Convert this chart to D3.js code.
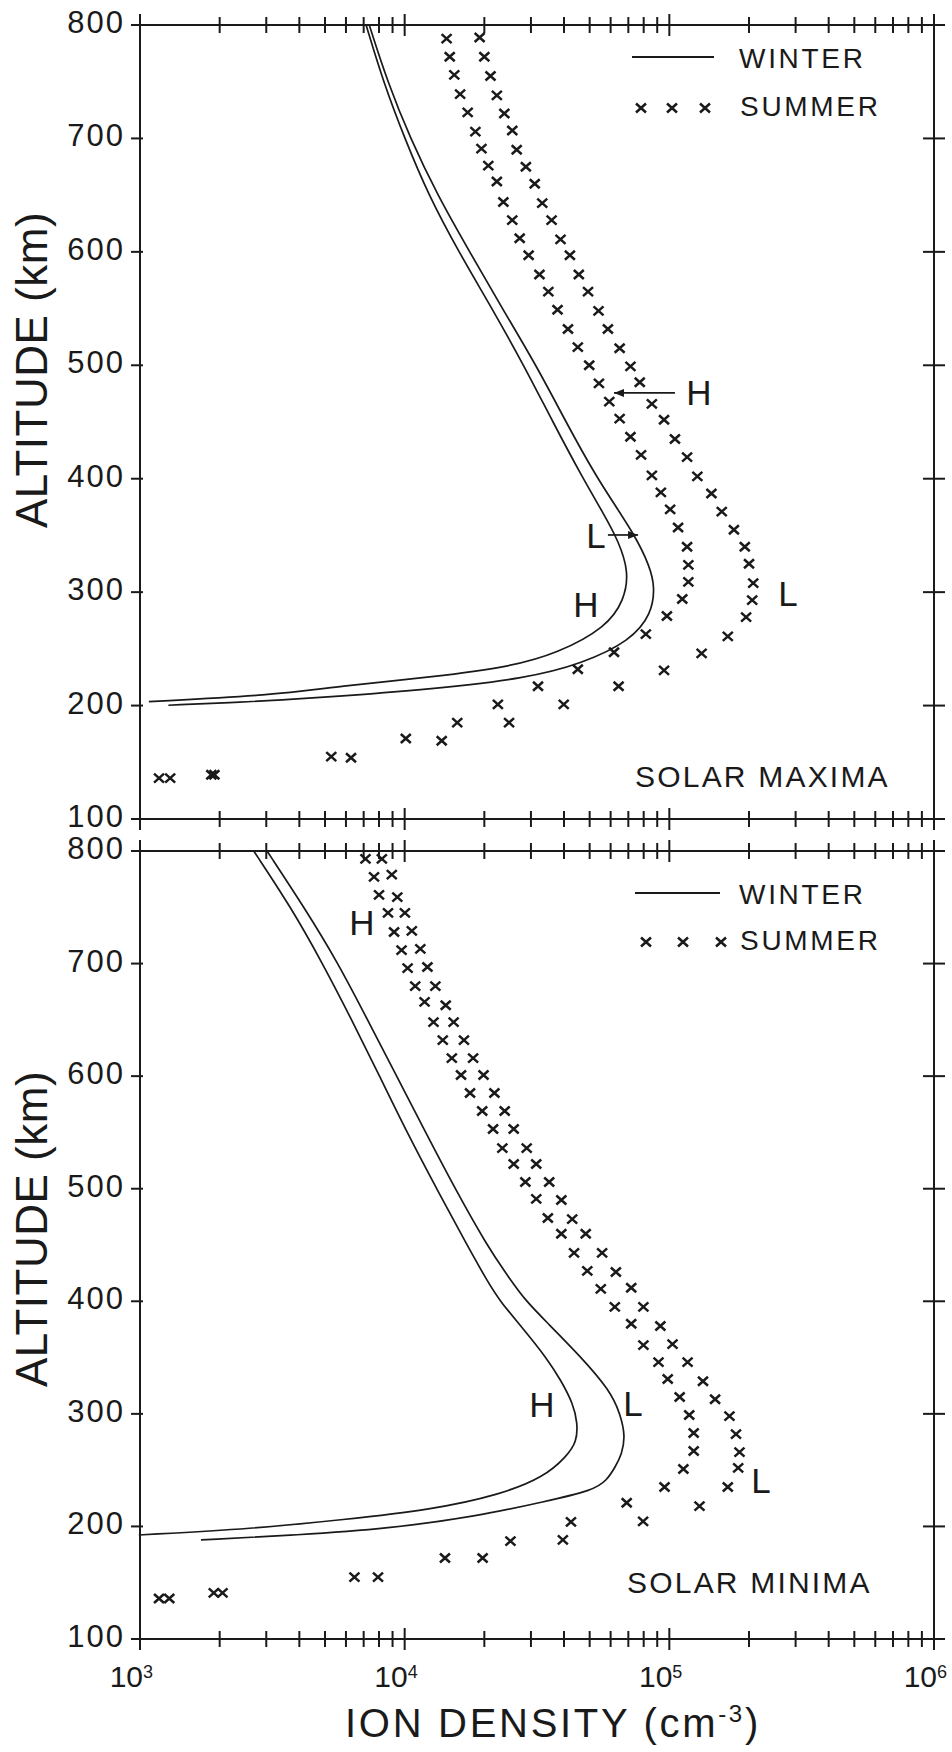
<!DOCTYPE html>
<html>
<head>
<meta charset="utf-8">
<script src="https://cdn.jsdelivr.net/npm/d3@7"></script>
<style>
  body { margin: 0; background: #fff; }
  svg { display: block; }
  text { font-family: "Liberation Sans", Arial, sans-serif; fill: #1a1a1a; }
</style>
</head>
<body>
<svg id="chart" width="952" height="1752"></svg>
<script>
// axis values
const altTicks = [100, 200, 300, 400, 500, 600, 700, 800];
const decades = [3, 4, 5, 6];

// solar maxima, winter model curves: [altitude km, density cm-3]
const maxWinterH = [[800,7150],[750,8300],[700,10000],[650,12300],[600,16000],[550,21400],[500,28200],[450,36300],[400,47200],[370,56200],[345,64300],[318,70300],[293,67600],[269,57800],[246,37800],[234,24800],[225.5,13100],[217,5640],[209,3150],[203.5,1080]];
const maxWinterL = [[800,7350],[750,8610],[700,10500],[650,13300],[600,17600],[550,23400],[500,31400],[450,40700],[400,53300],[350,74500],[322,84500],[305,88100],[281,85900],[257,71300],[237,46800],[224,29000],[213.6,11800],[206,4100],[203,2420],[200.3,1280]];

// solar maxima, summer model (crosses)
const maxSummerH = [[788,14400],[772,14800],[756,15400],[739,16200],[723,17300],[706,18500],[691,19500],[676,20700],[662,22300],[644,23600],[628,25500],[612,27200],[597,29400],[580,32300],[565,34900],[549,37800],[532,41400],[516,45100],[500,49800],[484,54200],[468,59300],[453,64900],[437,71300],[421,78200],[403,85900],[388,92900],[373,100700],[357,107900],[340,116700],[324,118000],[309,118000],[294,111900],[279,97900],[263,81500],[247,61800],[232,45100],[217,31900],[201,22500],[185,15800],[171,10100],[155,5280],[139,1860],[136,1180]];
const maxSummerL = [[789,19200],[772,20000],[755,21100],[738,22300],[722,23800],[707,25500],[690,26500],[675,28700],[660,31000],[643,33100],[628,35900],[611,38800],[597,42100],[580,45500],[565,49300],[548,54000],[532,58600],[515,64900],[499,71300],[485,77300],[466,85900],[452,95500],[435,105000],[419,116700],[402,127600],[387,144200],[371,157800],[355,175400],[340,192800],[325,200000],[308,207500],[293,205600],[278,195000],[261,166300],[246,132400],[231,95500],[217,64300],[201,39900],[185,24800],[169,13800],[154,6270],[139,1910],[136,1300]];

// solar minima, winter model curves
const minWinterH = [[800,2690],[750,3720],[700,4900],[650,6310],[600,8040],[550,10200],[500,13200],[450,17200],[419,20400],[400,22900],[375,28200],[350,34300],[330,38900],[309,43300],[292,45000],[275,44700],[262,40800],[244,33700],[228,22800],[215,12700],[206,5860],[198,2690],[192.4,990]];
const minWinterL = [[800,3020],[750,4170],[700,5620],[650,7240],[600,9330],[550,12000],[500,15500],[450,20400],[419,25100],[400,28800],[383,33900],[351,46200],[321,59600],[300,65300],[280,68200],[264,66100],[253,62500],[241,58100],[232,51500],[222,33700],[209,18800],[198,8650],[192.4,3970],[188,1700]];

// solar minima, summer model (crosses)
const minSummerH = [[793,7110],[777,7660],[761,8000],[745,8650],[728,9120],[712,9730],[696,10260],[680,10960],[666,11890],[648,12850],[632,13930],[616,15070],[601,16330],[585,17660],[569,19630],[553,21580],[536,23390],[522,25820],[506,28580],[491,31410],[474,34750],[460,39080],[443,43650],[427,48980],[411,55080],[395,62230],[380,71780],[361,79800],[346,91000],[331,98600],[315,109400],[299,118900],[283,123600],[267,123600],[251,113000],[235,95900],[221,69000],[204,42500],[187,25100],[172,14200],[155,6460],[141,1900],[136,1180]];
const minSummerL = [[793,8200],[779,8940],[759,9380],[745,10020],[729,10640],[713,11460],[697,12190],[680,13060],[663,14290],[648,15310],[632,16750],[616,18140],[601,19860],[585,21830],[569,23880],[553,25820],[536,28910],[522,31410],[506,35160],[490,39080],[473,42950],[460,48310],[443,55720],[426,62810],[412,71780],[395,79800],[378,92500],[362,102800],[346,117200],[329,134000],[313,148900],[298,168700],[282,178600],[266,184100],[252,182000],[235,166300],[218,130000],[204.5,79600],[188,39600],[172,19700],[155,7930],[141,2050],[136,1290]];

// H / L annotations: [density, altitude, text]
const maxNotes = [[129400,475.6,"H"],[52800,349.5,"L"],[48400,289.5,"H"],[280500,299.2,"L"]];
const maxArrows = [[105000,61800,475.6],[58600,76200,350.4]];
const minNotes = [[6900,736.9,"H"],[33000,307.9,"H"],[72900,309.6,"L"],[221800,240.4,"L"]];

const ink = "#1a1a1a";
const svg = d3.select("#chart");
const x = d3.scaleLog().domain([1e3, 1e6]).range([140, 934]);

svg.append("defs").append("marker")
    .attr("id", "head")
    .attr("viewBox", "0 0 10 8")
    .attr("refX", 10).attr("refY", 4)
    .attr("markerWidth", 10).attr("markerHeight", 8)
    .attr("markerUnits", "userSpaceOnUse")
    .attr("orient", "auto")
  .append("path")
    .attr("d", "M0,0L10,4L0,8z")
    .attr("fill", ink);

const panels = [
  { top: 25, bottom: 819, winter: [maxWinterH, maxWinterL], summer: [maxSummerH, maxSummerL],
    notes: maxNotes, arrows: maxArrows, title: "SOLAR MAXIMA", titleX: 635, titleY: 787,
    legLine: [632, 714, 57], legCross: [641, 672, 705], legCrossY: 108, legTextX: 739,
    yLabelY: 370 },
  { top: 851, bottom: 1639, winter: [minWinterH, minWinterL], summer: [minSummerH, minSummerL],
    notes: minNotes, arrows: [], title: "SOLAR MINIMA", titleX: 627, titleY: 1593,
    legLine: [635, 720, 893], legCross: [646, 683, 721], legCrossY: 942, legTextX: 739,
    yLabelY: 1229 }
];

// all log tick positions 1e3 .. 1e6
const logTicks = [];
decades.forEach(k => {
  if (k === 6) { logTicks.push({ v: 1e6, major: true }); return; }
  for (let m = 1; m <= 9; m++) logTicks.push({ v: m * Math.pow(10, k), major: m === 1 });
});

const crossPath = "M-5,-4.5L5,4.5M-5,4.5L5,-4.5";

panels.forEach(p => {
  const y = d3.scaleLinear().domain([100, 800]).range([p.bottom, p.top]);
  const g = svg.append("g");

  // frame
  g.append("rect")
    .attr("x", x(1e3)).attr("y", y(800))
    .attr("width", x(1e6) - x(1e3)).attr("height", y(100) - y(800))
    .attr("fill", "none").attr("stroke", ink).attr("stroke-width", 2);

  // x ticks on top and bottom edges
  [800, 100].forEach(a => {
    g.selectAll(null).data(logTicks).enter().append("line")
      .attr("x1", d => x(d.v)).attr("x2", d => x(d.v))
      .attr("y1", d => y(a) - (d.major ? 11 : 8))
      .attr("y2", d => y(a) + (d.major ? 11 : 8))
      .attr("stroke", ink).attr("stroke-width", 2);
  });

  // y ticks left and right
  g.selectAll(null).data(altTicks).enter().append("line")
    .attr("x1", x(1e3) - 9).attr("x2", x(1e3) + 3)
    .attr("y1", d => y(d)).attr("y2", d => y(d))
    .attr("stroke", ink).attr("stroke-width", 2);
  g.selectAll(null).data(altTicks).enter().append("line")
    .attr("x1", x(1e6) - 11).attr("x2", x(1e6) + 11)
    .attr("y1", d => y(d)).attr("y2", d => y(d))
    .attr("stroke", ink).attr("stroke-width", 2);

  g.selectAll(null).data(altTicks).enter().append("text")
    .attr("x", 125).attr("y", d => y(d) + 8)
    .attr("text-anchor", "end")
    .style("font-size", "31px").style("letter-spacing", "2px")
    .text(d => d);

  // y axis title
  g.append("text")
    .attr("transform", `translate(47,${p.yLabelY}) rotate(-90)`)
    .attr("text-anchor", "middle")
    .style("font-size", "44px").style("letter-spacing", "0.5px")
    .text("ALTITUDE (km)");

  // winter curves
  const line = d3.line()
    .x(d => x(d[1])).y(d => y(d[0]))
    .curve(d3.curveBasis);
  g.selectAll(null).data(p.winter).enter().append("path")
    .attr("d", line)
    .attr("fill", "none").attr("stroke", ink).attr("stroke-width", 1.7);

  // summer crosses
  p.summer.forEach(series => {
    g.selectAll(null).data(series).enter().append("path")
      .attr("transform", d => `translate(${x(d[1])},${y(d[0])})`)
      .attr("d", crossPath)
      .attr("stroke", ink).attr("stroke-width", 2.5).attr("fill", "none");
  });

  // H / L notes
  g.selectAll(null).data(p.notes).enter().append("text")
    .attr("x", d => x(d[0])).attr("y", d => y(d[1]) + 12.5)
    .attr("text-anchor", "middle")
    .style("font-size", "35px")
    .text(d => d[2]);
  g.selectAll(null).data(p.arrows).enter().append("line")
    .attr("x1", d => x(d[0])).attr("x2", d => x(d[1]))
    .attr("y1", d => y(d[2])).attr("y2", d => y(d[2]))
    .attr("stroke", ink).attr("stroke-width", 1.7)
    .attr("marker-end", "url(#head)");

  // legend
  const [lx1, lx2, ly] = p.legLine;
  g.append("line")
    .attr("x1", lx1).attr("x2", lx2).attr("y1", ly).attr("y2", ly)
    .attr("stroke", ink).attr("stroke-width", 2);
  g.append("text")
    .attr("x", p.legTextX).attr("y", ly + 11)
    .style("font-size", "28px").style("letter-spacing", "2.7px")
    .text("WINTER");
  g.selectAll(null).data(p.legCross).enter().append("path")
    .attr("transform", d => `translate(${d},${p.legCrossY})`)
    .attr("d", crossPath)
    .attr("stroke", ink).attr("stroke-width", 2.5);
  g.append("text")
    .attr("x", p.legTextX + 1).attr("y", p.legCrossY + 8)
    .style("font-size", "28px").style("letter-spacing", "2.7px")
    .text("SUMMER");

  g.append("text")
    .attr("x", p.titleX).attr("y", p.titleY)
    .style("font-size", "30px").style("letter-spacing", "2.2px")
    .text(p.title);
});

// x tick labels below the lower panel
svg.append("g").selectAll("text").data(decades).enter().append("text")
    .attr("x", d => x(Math.pow(10, d)) + 3)
    .attr("y", 1687)
    .attr("text-anchor", "end")
    .style("font-size", "30px")
    .text("10");
svg.append("g").selectAll("text").data(decades).enter().append("text")
    .attr("x", d => x(Math.pow(10, d)) + 3)
    .attr("y", 1678)
    .style("font-size", "18px")
    .text(d => d);

// x axis title
const xt = svg.append("text")
    .attr("x", 553).attr("y", 1737)
    .attr("text-anchor", "middle")
    .style("font-size", "40px").style("letter-spacing", "2.7px");
xt.append("tspan").text("ION DENSITY (cm");
xt.append("tspan").attr("dy", -15).style("font-size", "24px").text("-3");
xt.append("tspan").attr("dy", 15).text(")");
</script>
</body>
</html>
